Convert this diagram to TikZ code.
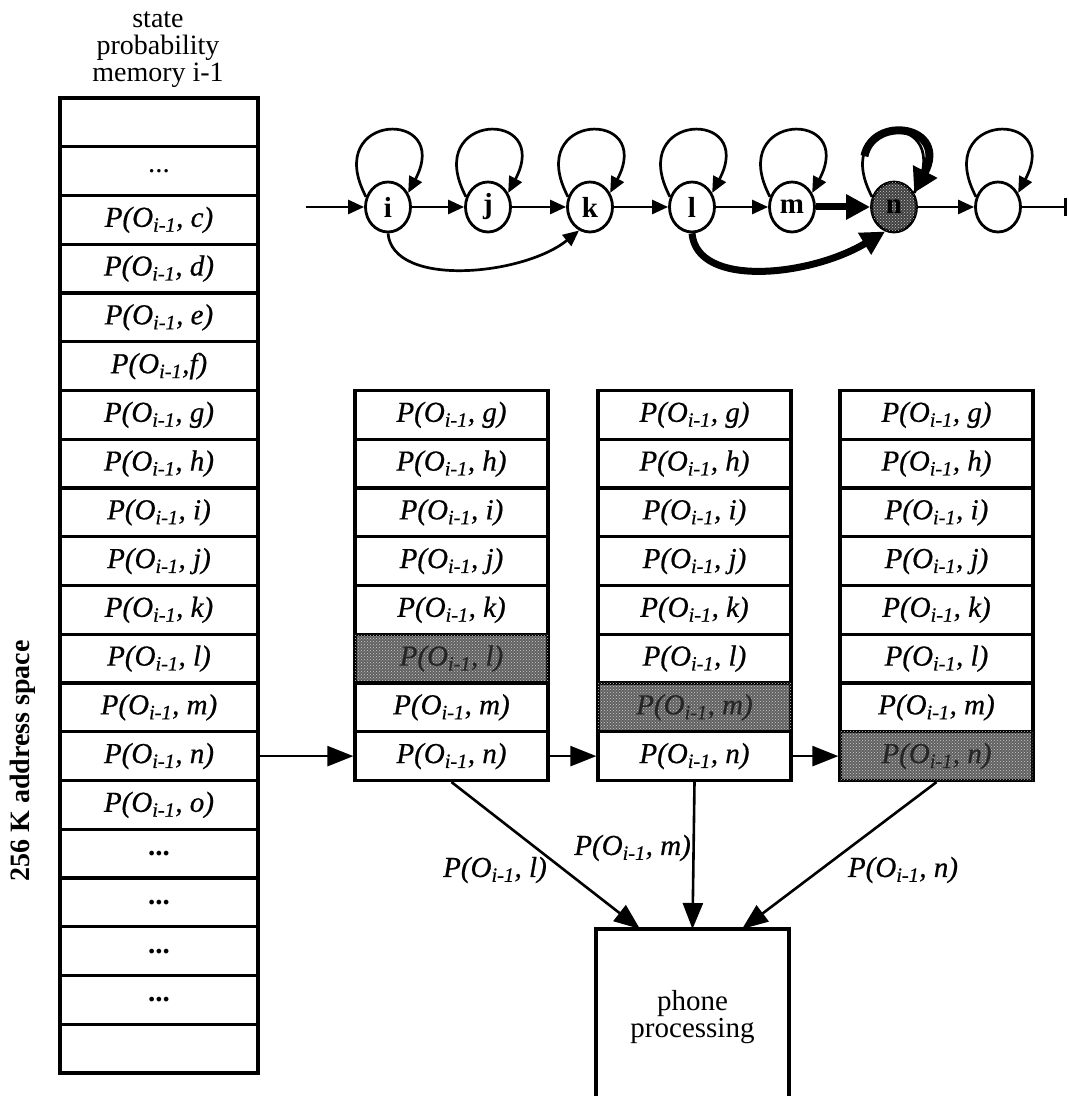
\documentclass[tikz,border=0pt]{standalone}
\usepackage{fontspec}
\setmainfont{Liberation Serif}[ItalicFeatures={FakeBold=0.6}]
\usetikzlibrary{arrows.meta,shapes.geometric,patterns,calc}
\newcommand{\pc}[1]{\textit{P(O\textsubscript{i-1}, #1)}}
\newcommand{\pcf}[1]{\textit{P(O\textsubscript{i-1},#1)}}
\begin{document}
\begin{tikzpicture}[x=1pt,y=1pt,
  cell/.style={draw, line width=3.2pt, minimum width=198pt, minimum height=48.75pt, inner sep=0pt, font=\fontsize{29}{30}\selectfont},
  mcell/.style={cell, minimum width=193pt},
  shcell/.style={mcell, fill=black!62, text=black!85, postaction={pattern=crosshatch dots, pattern color=white!80!black}},
  st/.style={ellipse, draw, line width=2.8pt, minimum width=45pt, minimum height=50pt, inner sep=0pt, font=\fontsize{29}{29}\selectfont\bfseries},
  stsh/.style={st, fill=black!75, postaction={pattern=crosshatch dots, pattern color=white!80!black}},
  ar/.style={-{Triangle[length=16pt,width=14pt]}, line width=2.7pt},
  thickar/.style={-{Triangle[length=24pt,width=24pt]}, line width=7pt},
  bigar/.style={-{Triangle[length=26pt,width=20pt]}, line width=2.6pt},
  lbl/.style={font=\fontsize{29}{30}\selectfont, inner sep=0pt},
  txt/.style={font=\fontsize{28}{27}\selectfont, align=center, inner sep=0pt}
]
\useasboundingbox (0,0) rectangle (1069,1096);

% title
\node[txt] (title) at (158,1046) {state\\probability\\memory i-1};

% left column
\foreach \r/\t in {0/{}, 1/{...}, 2/{\pc{c}}, 3/{\pc{d}}, 4/{\pc{e}}, 5/{\pcf{f}}, 6/{\pc{g}}, 7/{\pc{h}}, 8/{\pc{i}}, 9/{\pc{j}}, 10/{\pc{k}}, 11/{\pc{l}}, 12/{\pc{m}}, 13/{\pc{n}}, 14/{\pc{o}}, 15/{\textbf{...}}, 16/{\textbf{...}}, 17/{\textbf{...}}, 18/{\textbf{...}}, 19/{}}
  \node[cell] (L\r) at (159, 973.625-48.75*\r) {\t};

% middle boxes
\foreach \b/\x/\s in {1/451.5/11, 2/694.5/12, 3/936.5/13}{
  \foreach \r/\t in {6/{\pc{g}}, 7/{\pc{h}}, 8/{\pc{i}}, 9/{\pc{j}}, 10/{\pc{k}}, 11/{\pc{l}}, 12/{\pc{m}}, 13/{\pc{n}}}{
    \ifnum\r=\s
      \node[shcell] (B\b r\r) at (\x, 973.625-48.75*\r) {\t};
    \else
      \node[mcell] (B\b r\r) at (\x, 973.625-48.75*\r) {\t};
    \fi
  }
}

\draw[bigar] (L13.east) -- (B1r13.west);
\draw[bigar] (B1r13.east) -- (B2r13.west);
\draw[bigar] (B2r13.east) -- (B3r13.west);

% phone processing box (open at the bottom)
\draw[line width=3.2pt] (596,-5) -- (596,167) -- (789,167) -- (789,-5);
\coordinate (pl) at (640,167);
\coordinate (pm) at (692.5,167);
\coordinate (pr) at (742,167);
\node[txt, font=\fontsize{29}{27}\selectfont] (ph) at (692.5,79) {phone\\processing};

\draw[bigar] (B1r13.south) -- (pl);
\draw[bigar] (B2r13.south) -- (pm);
\draw[bigar] (B3r13.south) -- (pr);

\node[lbl] (lab1) at (495,226) {\pc{l}};
\node[lbl, anchor=east] (lab2) at (691,248) {\pc{m}};
\node[lbl] (lab3) at (903,226) {\pc{n}};

% rotated side label
\node[rotate=90, font=\fontsize{28}{28}\selectfont\bfseries, inner sep=0pt] (side) at (23,335) {256 K address space};

% state diagram
\node[st] (si) at (388,889) {i};
\node[st] (sj) at (488,889) {j};
\node[st] (sk) at (590,889) {k};
\node[st] (sl) at (692,889) {l};
\node[st] (sm) at (792,889) {m};
\node[stsh] (sn) at (894,889) {n};
\node[st] (so) at (998,889) {};
\coordinate (entry) at (306,889);
\coordinate (exit) at (1067,889);
\coordinate (nloop) at (864.4,939.9);

\draw[ar] (entry) -- (si);
\draw[ar] (si) -- (sj);
\draw[ar] (sj) -- (sk);
\draw[ar] (sk) -- (sl);
\draw[ar] (sl) -- (sm);
\draw[thickar] (sm) -- (sn);
\draw[ar] (sn) -- (so);
\draw[-{Bar[width=18pt]}, line width=2.7pt] (so) -- (exit);

\foreach \n in {si,sj,sk,sl,sm,so}
  \draw[ar] (\n.155) .. controls +(-45,85) and +(45,85) .. (\n.35);
\draw[line width=2.7pt] (sn.155) .. controls +(-45,85) and +(45,85) .. (sn.35);
\draw[-{Triangle[length=24pt,width=26pt]}, line width=8pt] (nloop) .. controls (873.2,981.6) and (949,970.3) .. (sn.35);

\draw[ar] (si.south) .. controls +(5,-55) and +(-55,-45) .. (sk.245);
\draw[-{Triangle[length=24pt,width=24pt]}, line width=7pt] (sl.south) .. controls +(5,-55) and +(-75,-45) .. (sn.250);
\end{tikzpicture}
\end{document}
